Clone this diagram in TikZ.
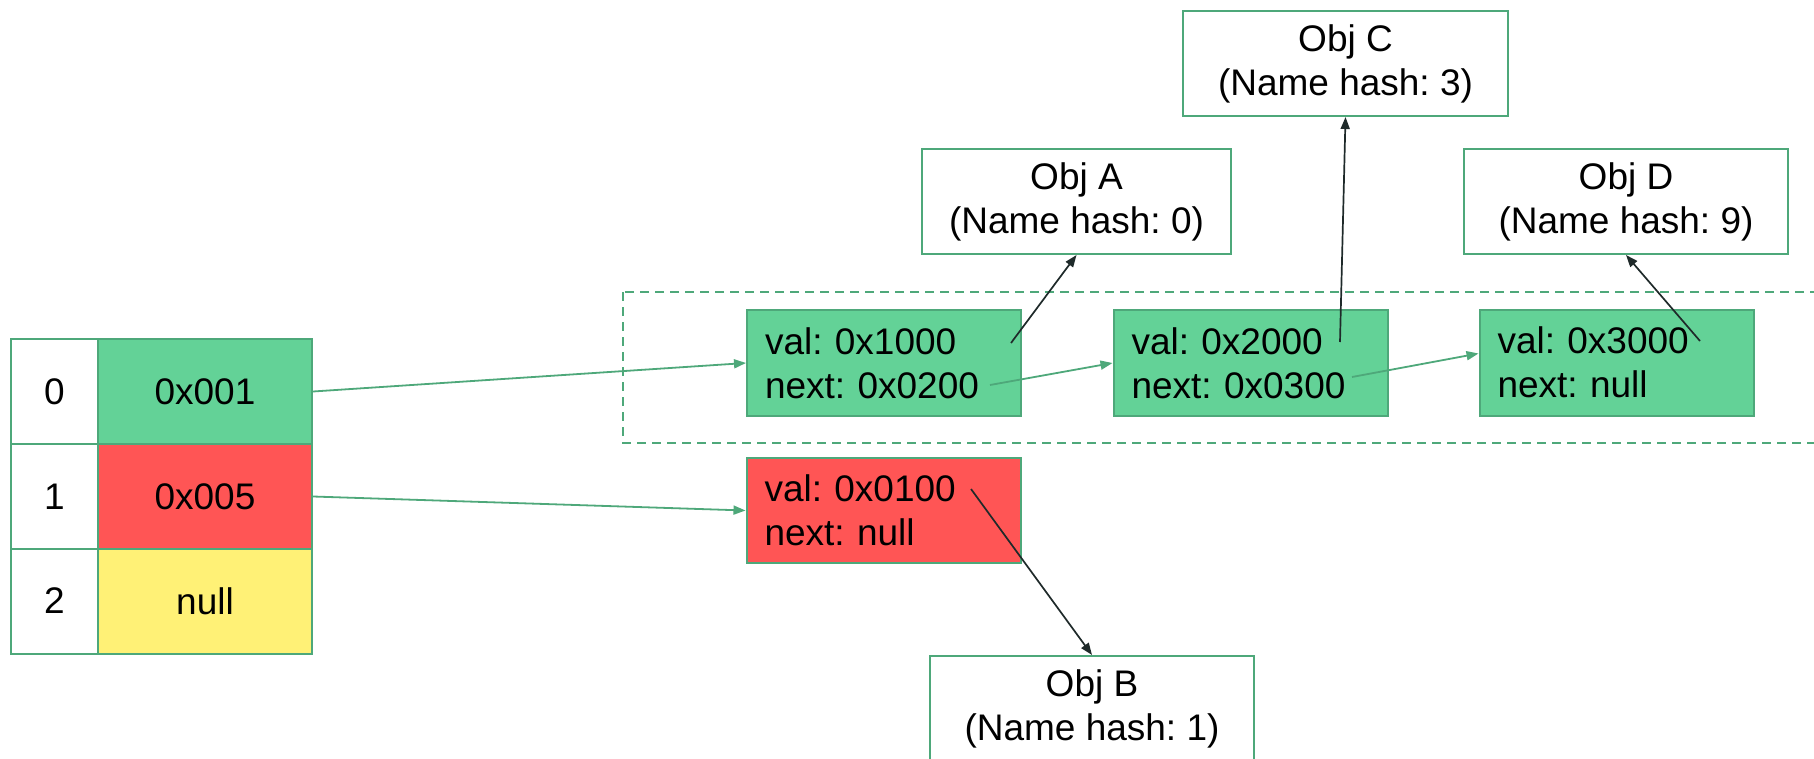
\documentclass[tikz,border=0pt]{standalone}
\usepackage{fontspec}
\setmainfont{Liberation Sans}
\usetikzlibrary{arrows.meta,calc}
\definecolor{cellgreen}{HTML}{63D297}
\definecolor{cellred}{HTML}{FF5555}
\definecolor{cellyellow}{HTML}{FFF176}
\definecolor{edgegreen}{HTML}{4EA87A}
\definecolor{pointer}{HTML}{1F2A2A}

\begin{document}
\begin{tikzpicture}[x=1pt,y=-1pt,
  every node/.style={font=\fontsize{37}{44}\selectfont\frenchspacing},
  cell/.style={draw=edgegreen, line width=2pt, inner sep=0pt, minimum height=105pt, align=center},
  listnode/.style={draw=edgegreen, line width=2pt, inner xsep=18pt, inner ysep=0pt,
                   text width=238pt, align=left, minimum height=106pt},
  objbox/.style={draw=edgegreen, fill=white, line width=2pt, inner sep=0pt,
                 minimum height=105pt, align=center},
  link/.style={draw=edgegreen, line width=1.8pt, -{Triangle[length=12pt,width=9pt]}},
  ref/.style={draw=pointer, line width=1.7pt, -{Triangle[length=12pt,width=9pt]}},
  bucket/.style={draw=edgegreen, line width=1.8pt, dash pattern=on 9pt off 6pt}
]
\useasboundingbox (0,0) rectangle (1814,759);
\clip (0,0) rectangle (1814,759);

% chain of bucket 0
\draw[bucket] (623,292) rectangle (1850,443);

% hash table
\node[cell, minimum width=87pt, fill=white]      (i0) at (54.5,391.5) {0};
\node[cell, minimum width=214pt, fill=cellgreen] (v0) at (205,391.5) {0x001};
\node[cell, minimum width=87pt, fill=white]      (i1) at (54.5,496.5) {1};
\node[cell, minimum width=214pt, fill=cellred]   (v1) at (205,496.5) {0x005};
\node[cell, minimum width=87pt, fill=white]      (i2) at (54.5,601) {2};
\node[cell, minimum width=214pt, fill=cellyellow](v2) at (205,601) {null};

% list entries
\node[listnode, fill=cellgreen] (n1) at (884,363)    {val: 0x1000\\next: 0x0200};
\node[listnode, fill=cellgreen] (n2) at (1250.5,363) {val: 0x2000\\next: 0x0300};
\node[listnode, fill=cellgreen] (n3) at (1616.5,362.5) {val: 0x3000\\next: null};
\node[listnode, fill=cellred, minimum height=105pt] (r1) at (883.5,510.5) {val: 0x0100\\next: null};

% objects
\node[objbox, minimum width=325pt] (objC) at (1345.5,63.5) {Obj C\\(Name hash: 3)};
\node[objbox, minimum width=309pt] (objA) at (1076.5,201.5) {Obj A\\(Name hash: 0)};
\node[objbox, minimum width=324pt] (objD) at (1626,201.5) {Obj D\\(Name hash: 9)};
\node[objbox, minimum width=324pt] (objB) at (1092,708.5) {Obj B\\(Name hash: 1)};

% pointer origins inside the entries
\coordinate (n1val)  at ($(n1)+(127,-20)$);
\coordinate (n1next) at ($(n1)+(106,22)$);
\coordinate (n2val)  at ($(n2)+(89.5,-21)$);
\coordinate (n2next) at ($(n2)+(101.5,14)$);
\coordinate (n3val)  at ($(n3)+(83.5,-21.5)$);
\coordinate (r1val)  at ($(r1)+(87.5,-21.5)$);
\coordinate (n3in)   at ($(n3.west)+(0,-9)$);

% bucket and next links
\draw[link] (v0.east) -- (n1.west);
\draw[link] (v1.east) -- (r1.west);
\draw[link] (n1next) -- (n2.west);
\draw[link] (n2next) -- (n3in);

% value pointers
\draw[ref] (n1val) -- (objA.south);
\draw[ref] (n2val) -- (objC.south);
\draw[ref] (n3val) -- (objD.south);
\draw[ref] (r1val) -- (objB.north);
\end{tikzpicture}
\end{document}
